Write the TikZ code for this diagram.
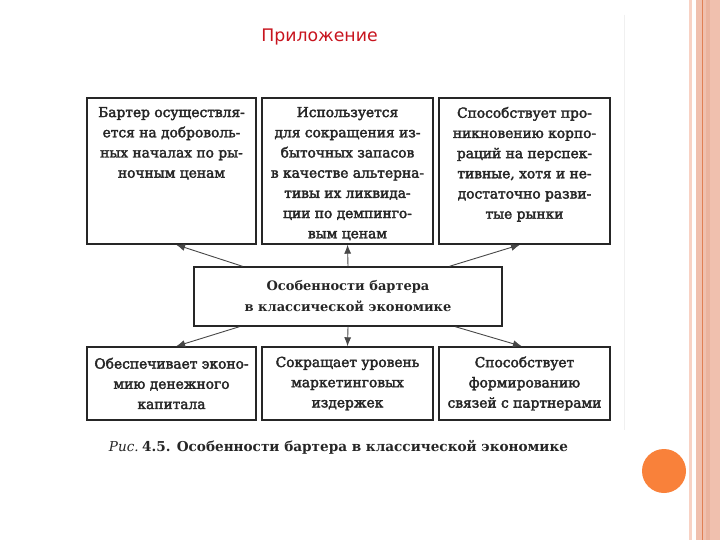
\documentclass[tikz,border=0pt]{standalone}
\usepackage{fontspec}
\usetikzlibrary{calc,arrows.meta}
\newfontfamily\boxfont[FakeBold=2.5]{DejaVu Serif}
\newfontfamily\boldfont{DejaVu Serif}
\newfontfamily\titlefont{DejaVu Sans}
\definecolor{inkc}{HTML}{262626}
\definecolor{titlered}{HTML}{C8141E}
\definecolor{bandpink}{HTML}{F0C0AE}
\definecolor{stripepink}{HTML}{F8D2C4}
\definecolor{bandline}{HTML}{E08055}
\definecolor{banddark}{HTML}{EAB39E}
\definecolor{dotorange}{HTML}{F9813A}
\tikzset{
  boxc/.style={draw=inkc, line width=1.4pt, inner sep=0pt},
  boxtext/.style={font=\boxfont\fontsize{13.8}{20.2}\selectfont, align=center, text=inkc, inner sep=0pt},
  midtext/.style={font=\boldfont\bfseries\fontsize{13}{21}\selectfont, align=center, text=inkc, inner sep=0pt},
  arr/.style={draw=inkc!85, line width=0.9pt, -{Latex[length=9pt,width=7pt]}}
}
\begin{document}
\begin{tikzpicture}[x=1pt,y=-1pt]
\useasboundingbox (0,0) rectangle (720,540);
\fill[white] (0,0) rectangle (720,540);
% right decoration
\fill[stripepink] (689,0) rectangle (692.3,540);
\fill[bandpink] (696,0) rectangle (720,540);
\fill[banddark] (706,0) rectangle (710,540);
\fill[bandline] (702,0) rectangle (703,540);
\fill[dotorange] (664,471) circle (22);
\draw[black!6, line width=0.8pt] (624.5,15) -- (624.5,430);
% title
\node[font=\titlefont\fontsize{17.3}{20}\selectfont, text=titlered] (title) at (319.5,37) {Приложение};
% boxes
\node[boxc, minimum width=169pt, minimum height=146pt] (b1) at (171.5,171) {};
\node[boxc, minimum width=171pt, minimum height=146pt] (b2) at (347.5,171) {};
\node[boxc, minimum width=171pt, minimum height=146pt] (b3) at (524.5,171) {};
\node[boxc, minimum width=308pt, minimum height=59pt] (mid) at (348,296.5) {};
\node[boxc, minimum width=169pt, minimum height=73pt] (b4) at (171.5,383.5) {};
\node[boxc, minimum width=171pt, minimum height=73pt] (b5) at (347.5,383.5) {};
\node[boxc, minimum width=171pt, minimum height=73pt] (b6) at (524.5,383.5) {};
% texts
\node[boxtext, anchor=north] (t1) at ($(b1.north)+(0,9.5)$) {Бартер осуществля-\\ется на доброволь-\\ных началах по ры-\\ночным ценам};
\node[boxtext, anchor=north] (t2) at ($(b2.north)+(0,9.5)$) {Используется\\для сокращения из-\\быточных запасов\\в качестве альтерна-\\тивы их ликвида-\\ции по демпинго-\\вым ценам};
\node[boxtext, anchor=north] (t3) at ($(b3.north)+(0,9.5)$) {Способствует про-\\никновению корпо-\\раций на перспек-\\тивные, хотя и не-\\достаточно разви-\\тые рынки};
\node[midtext] (tm) at (mid.center) {Особенности бартера\\в классической экономике};
\node[boxtext] (t4) at (b4.center) {Обеспечивает эконо-\\мию денежного\\капитала};
\node[boxtext] (t5) at (b5.center) {Сокращает уровень\\маркетинговых\\издержек};
\node[boxtext] (t6) at (b6.center) {Способствует\\формированию\\связей с партнерами};
% connectors
\draw[arr] ($(mid.north west)!0.159!(mid.north east)$) -- ($(b1.south west)!0.527!(b1.south east)$);
\draw[arr] (mid.north) -- (b2.south);
\draw[arr] ($(mid.north west)!0.828!(mid.north east)$) -- ($(b3.south west)!0.474!(b3.south east)$);
\draw[arr] ($(mid.south west)!0.149!(mid.south east)$) -- ($(b4.north west)!0.527!(b4.north east)$);
\draw[arr] (mid.south) -- (b5.north);
\draw[arr] ($(mid.south west)!0.847!(mid.south east)$) -- ($(b6.north west)!0.485!(b6.north east)$);
% caption
\node[text=inkc, inner sep=0pt] (cap) at (338.5,447) {{\boldfont\itshape\fontsize{13.6}{15}\selectfont Рис.}\ {\boldfont\bfseries\fontsize{13.6}{15}\selectfont 4.5. Особенности бартера в классической экономике}};
\end{tikzpicture}
\end{document}
